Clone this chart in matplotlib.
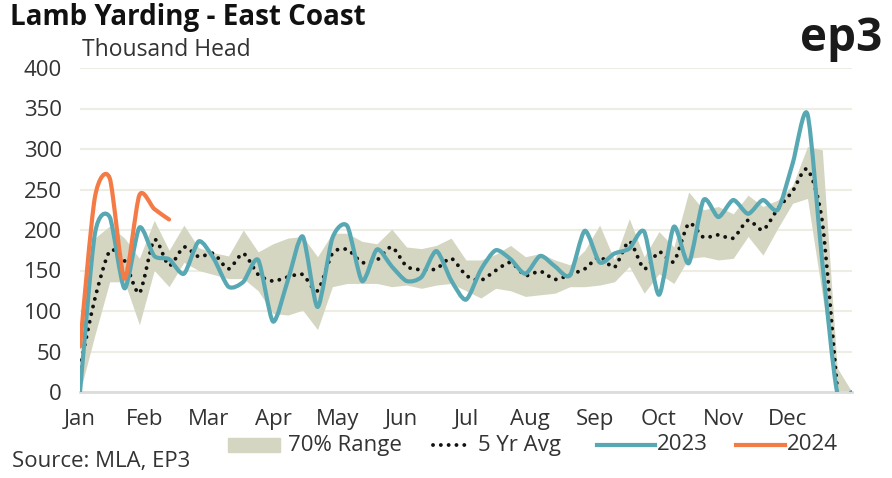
import numpy as np
import matplotlib
matplotlib.use("Agg")
import matplotlib.pyplot as plt
from matplotlib.path import Path
from matplotlib.patches import PathPatch, Rectangle
from matplotlib.lines import Line2D

plt.rcParams["font.family"] = ["Open Sans", "DejaVu Sans"]

# weekly values, thousand head (week 0 = start of Jan)
weeks = list(range(53))
months = ["Jan", "Feb", "Mar", "Apr", "May", "Jun", "Jul", "Aug", "Sep", "Oct", "Nov", "Dec"]

range_hi = [25, 190, 205, 190, 165, 212, 175, 206, 178, 172, 168, 200, 173,
            183, 190, 192, 167, 196, 196, 186, 183, 201, 179, 177, 181, 190,
            163, 163, 170, 181, 167, 171, 163, 157, 175, 206, 163, 214, 167,
            198, 179, 247, 225, 229, 220, 243, 229, 237, 255, 303, 299, 30, 0]
range_lo = [0, 70, 136, 136, 83, 150, 130, 160, 150, 145, 140, 140, 125,
            97, 95, 101, 77, 130, 134, 134, 134, 130, 132, 128, 132, 134,
            125, 116, 128, 125, 118, 120, 122, 130, 130, 132, 136, 155, 122,
            146, 134, 165, 167, 163, 165, 192, 169, 202, 233, 239, 120, 0, 0]
avg_5yr = [30, 115, 174, 162, 122, 188, 156, 179, 167, 171, 152, 171, 145,
           137, 142, 145, 125, 171, 176, 160, 163, 179, 155, 151, 152, 165,
           144, 138, 150, 160, 144, 149, 139, 145, 152, 167, 154, 186, 152,
           173, 161, 208, 191, 194, 190, 212, 200, 226, 248, 275, 210, 5]
y2023 = [0, 195, 216, 128, 203, 168, 164, 146, 186, 165, 130, 136, 163,
         87, 138, 192, 105, 190, 205, 137, 176, 155, 137, 142, 174, 138,
         114, 151, 175, 164, 146, 168, 155, 144, 199, 160, 171, 177, 198,
         120, 204, 159, 237, 216, 237, 220, 237, 225, 282, 343, 160, 0, 0]
y2024 = [56, 240, 264, 140, 243, 226, 213]

BAND = "#d5d6c2"
TEAL = "#58a8b4"
ORANGE = "#f47b45"
GRID = "#eeede4"
TXT = "#333333"
DOTS = (0, (0.01, 2.0))


def smooth_path(x, y, k=8):
    # smoothed line like the spreadsheet one: Catmull-Rom pieces as cubic beziers
    pts = np.column_stack([x, y]).astype(float)
    n = len(pts)
    verts = [pts[0]]
    codes = [Path.MOVETO]
    for i in range(n - 1):
        p0 = pts[max(i - 1, 0)]
        p1 = pts[i]
        p2 = pts[i + 1]
        p3 = pts[min(i + 2, n - 1)]
        verts += [p1 + (p2 - p0) / k, p2 - (p3 - p1) / k, p2]
        codes += [Path.CURVE4] * 3
    return Path(verts, codes)


fig = plt.figure(figsize=(8.92, 4.78), dpi=100)
ax = fig.add_axes([80 / 892, 86 / 478, 772 / 892, 324 / 478])

ax.fill_between(weeks, range_lo, range_hi, color=BAND, lw=0, zorder=1)

ax.add_patch(PathPatch(smooth_path(weeks[:len(avg_5yr)], avg_5yr), fill=False,
                       ec="#111111", lw=2.8, linestyle=DOTS, capstyle="round", zorder=3))
ax.add_patch(PathPatch(smooth_path(weeks, y2023), fill=False, ec=TEAL, lw=3,
                       capstyle="round", joinstyle="round", zorder=4))
ax.add_patch(PathPatch(smooth_path(weeks[:len(y2024)], y2024), fill=False,
                       ec=ORANGE, lw=3, capstyle="round", joinstyle="round", zorder=5))

ax.set_xlim(0, 52)
ax.set_ylim(0, 400)
ax.set_yticks(range(0, 401, 50))
ax.set_xticks([i * 52 / 12 for i in range(12)])
ax.set_xticklabels(months)
ax.grid(axis="y", color=GRID, lw=1.5, zorder=0)
ax.set_axisbelow(True)
for side in ["top", "right", "left"]:
    ax.spines[side].set_visible(False)
ax.spines["bottom"].set_color("#dcdcdc")
ax.spines["bottom"].set_linewidth(2)
ax.tick_params(axis="both", length=0, labelsize=16, colors=TXT)
ax.tick_params(axis="y", pad=13)
ax.tick_params(axis="x", pad=12)

fig.text(10 / 892, 1 - 18 / 478, "Lamb Yarding - East Coast", fontsize=20,
         fontweight="bold", va="center", color="#111111")
fig.text(82 / 892, 1 - 50 / 478, "Thousand Head", fontsize=16.5, va="center", color=TXT)
fig.text(882 / 892, 1 - 39 / 478, "ep3", fontsize=33, fontweight="bold",
         ha="right", va="center", color="#1a1a1a")
fig.text(12 / 892, 1 - 461 / 478, "Source: MLA, EP3", fontsize=16, va="center", color=TXT)

# legend row, placed by hand in figure pixels
W, H = 892, 478
ly = 1 - 445 / H
fig.add_artist(Rectangle((228 / W, 1 - 452 / H), 52 / W, 14 / H, color=BAND,
                         transform=fig.transFigure))
fig.add_artist(Line2D([433 / W, 470 / W], [ly, ly], color="#111111", lw=2.8,
                      linestyle=DOTS, dash_capstyle="round", transform=fig.transFigure))
fig.add_artist(Line2D([597 / W, 655 / W], [ly, ly], color=TEAL, lw=3,
                      transform=fig.transFigure))
fig.add_artist(Line2D([736 / W, 785 / W], [ly, ly], color=ORANGE, lw=3,
                      transform=fig.transFigure))
for x0, label in [(288, "70% Range"), (478, "5 Yr Avg"), (657, "2023"), (787, "2024")]:
    fig.text(x0 / W, ly, label, fontsize=16, va="center", color=TXT)

fig.savefig("out.png", dpi=100)
